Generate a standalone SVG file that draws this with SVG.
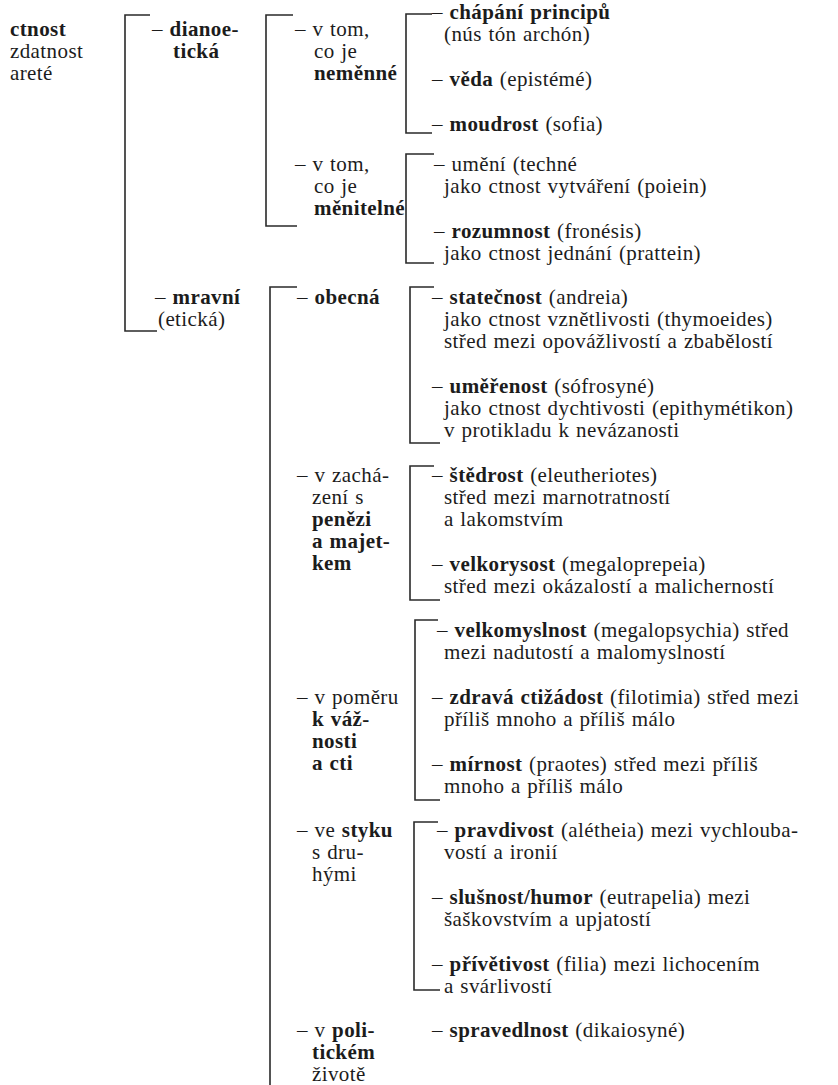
<svg xmlns="http://www.w3.org/2000/svg" width="838" height="1085" viewBox="0 0 838 1085">
<style>
text{font-size:21px;fill:#1c1c1c;letter-spacing:0.4px;word-spacing:1px}
.b{font-weight:bold}
.br{fill:none;stroke:#2a2a2a;stroke-width:1.6}
</style>
<rect width="838" height="1085" fill="#ffffff"/>
<g id="connectors">
<path class="br" d="M150,15 H125 V331 H157"/>
<path class="br" d="M293,15 H266 V226 H297"/>
<path class="br" d="M432,14 H406 V133 H432"/>
<path class="br" d="M434,154 H406 V263 H434"/>
<path class="br" d="M297,287 H270 V1085"/>
<path class="br" d="M434,287 H410 V443 H440"/>
<path class="br" d="M434,466 H410 V600 H440"/>
<path class="br" d="M438,620 H415 V800 H440"/>
<path class="br" d="M438,822 H414 V990 H440"/>
</g>
<g id="ctnost" font-family="'Liberation Serif', serif"><text x="10" y="36" class="b">ctnost</text><text x="10" y="58">zdatnost</text><text x="10" y="80">areté</text></g>
<g id="dianoeticka" font-family="'Liberation Serif', serif"><text x="152" y="36"><tspan>– </tspan><tspan class="b">dianoe-</tspan></text><text x="173" y="58" class="b">tická</text></g>
<g id="nemenne" font-family="'Liberation Serif', serif"><text x="295" y="36">– v tom,</text><text x="314" y="58">co je</text><text x="314" y="80" class="b">neměnné</text></g>
<g id="menitelne" font-family="'Liberation Serif', serif"><text x="295" y="171">– v tom,</text><text x="314" y="193">co je</text><text x="314" y="215" class="b">měnitelné</text></g>
<g id="chapani" font-family="'Liberation Serif', serif"><text x="432" y="19">– <tspan class="b">chápání principů</tspan></text><text x="444" y="41">(nús tón archón)</text></g>
<g id="veda" font-family="'Liberation Serif', serif"><text x="432" y="86">– <tspan class="b">věda</tspan> (epistémé)</text></g>
<g id="moudrost" font-family="'Liberation Serif', serif"><text x="432" y="131">– <tspan class="b">moudrost</tspan> (sofia)</text></g>
<g id="umeni" font-family="'Liberation Serif', serif"><text x="434" y="171">– umění (techné</text><text x="444" y="193">jako ctnost vytváření (poiein)</text></g>
<g id="rozumnost" font-family="'Liberation Serif', serif"><text x="434" y="238">– <tspan class="b">rozumnost</tspan> (fronésis)</text><text x="444" y="260">jako ctnost jednání (prattein)</text></g>
<g id="mravni" font-family="'Liberation Serif', serif"><text x="155" y="304">– <tspan class="b">mravní</tspan></text><text x="158" y="326">(etická)</text></g>
<g id="obecna" font-family="'Liberation Serif', serif"><text x="297" y="304">– <tspan class="b">obecná</tspan></text></g>
<g id="statecnost" font-family="'Liberation Serif', serif"><text x="432" y="304">– <tspan class="b">statečnost</tspan> (andreia)</text><text x="444" y="326">jako ctnost vznětlivosti (thymoeides)</text><text x="444" y="348">střed mezi opovážlivostí a zbabělostí</text></g>
<g id="umerenost" font-family="'Liberation Serif', serif"><text x="432" y="393">– <tspan class="b">uměřenost</tspan> (sófrosyné)</text><text x="444" y="415">jako ctnost dychtivosti (epithymétikon)</text><text x="444" y="437">v protikladu k nevázanosti</text></g>
<g id="penezi" font-family="'Liberation Serif', serif"><text x="297" y="482">– v zachá-</text><text x="312" y="504">zení s</text><text x="312" y="526" class="b">penězi</text><text x="312" y="548" class="b">a majet-</text><text x="312" y="570" class="b">kem</text></g>
<g id="stedrost" font-family="'Liberation Serif', serif"><text x="432" y="482">– <tspan class="b">štědrost</tspan> (eleutheriotes)</text><text x="444" y="504">střed mezi marnotratností</text><text x="444" y="526">a lakomstvím</text></g>
<g id="velkorysost" font-family="'Liberation Serif', serif"><text x="432" y="571">– <tspan class="b">velkorysost</tspan> (megaloprepeia)</text><text x="444" y="593">střed mezi okázalostí a malicherností</text></g>
<g id="vaznost" font-family="'Liberation Serif', serif"><text x="297" y="704">– v poměru</text><text x="312" y="726" class="b">k váž-</text><text x="312" y="748" class="b">nosti</text><text x="312" y="770" class="b">a cti</text></g>
<g id="velkomyslnost" font-family="'Liberation Serif', serif"><text x="437" y="637">– <tspan class="b">velkomyslnost</tspan> (megalopsychia) střed</text><text x="444" y="659">mezi nadutostí a malomyslností</text></g>
<g id="ctizadost" font-family="'Liberation Serif', serif"><text x="432" y="704">– <tspan class="b">zdravá ctižádost</tspan> (filotimia) střed mezi</text><text x="444" y="726">příliš mnoho a příliš málo</text></g>
<g id="mirnost" font-family="'Liberation Serif', serif"><text x="432" y="771">– <tspan class="b">mírnost</tspan> (praotes) střed mezi příliš</text><text x="444" y="793">mnoho a příliš málo</text></g>
<g id="styk" font-family="'Liberation Serif', serif"><text x="297" y="837">– ve <tspan class="b">styku</tspan></text><text x="312" y="859">s dru-</text><text x="312" y="881">hými</text></g>
<g id="pravdivost" font-family="'Liberation Serif', serif"><text x="437" y="837">– <tspan class="b">pravdivost</tspan> (alétheia) mezi vychlouba-</text><text x="444" y="859">vostí a ironií</text></g>
<g id="slusnost" font-family="'Liberation Serif', serif"><text x="432" y="904">– <tspan class="b">slušnost/humor</tspan> (eutrapelia) mezi</text><text x="444" y="926">šaškovstvím a upjatostí</text></g>
<g id="privetivost" font-family="'Liberation Serif', serif"><text x="432" y="971">– <tspan class="b">přívětivost</tspan> (filia) mezi lichocením</text><text x="444" y="993">a svárlivostí</text></g>
<g id="politika" font-family="'Liberation Serif', serif"><text x="297" y="1037">– v <tspan class="b">poli-</tspan></text><text x="312" y="1059" class="b">tickém</text><text x="312" y="1081">životě</text></g>
<g id="spravedlnost" font-family="'Liberation Serif', serif"><text x="432" y="1037">– <tspan class="b">spravedlnost</tspan> (dikaiosyné)</text></g>
</svg>
